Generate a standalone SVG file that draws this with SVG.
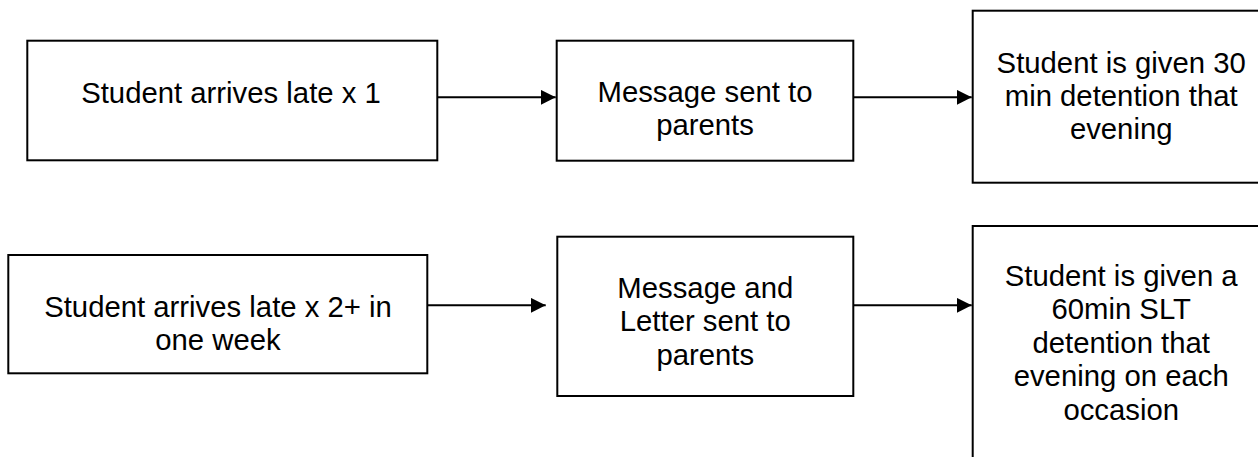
<svg xmlns="http://www.w3.org/2000/svg" width="1258" height="457" viewBox="0 0 1258 457">
  <style>
    .box { fill: #ffffff; stroke: #000000; stroke-width: 2; }
    .lbl { font-family: "Liberation Sans", Arial, sans-serif; font-size: 29.3px; fill: #000000; text-anchor: middle; }
    .conn { stroke: #000000; stroke-width: 2; fill: none; marker-end: url(#arrow); }
  </style>
  <defs>
    <marker id="arrow" markerUnits="userSpaceOnUse" markerWidth="16" markerHeight="16" refX="15" refY="7.5" orient="auto">
      <path d="M0,0 L15,7.5 L0,15 Z" fill="#000000"/>
    </marker>
  </defs>
  <rect width="1258" height="457" fill="#ffffff"/>

  <g id="connectors">
    <line class="conn" x1="437.3" y1="97.3" x2="555.7" y2="97.3"/>
    <line class="conn" x1="853.3" y1="97.3" x2="971.7" y2="97.3"/>
    <line class="conn" x1="427.3" y1="305.3" x2="545.7" y2="305.3"/>
    <line class="conn" x1="853.3" y1="305.3" x2="971.7" y2="305.3"/>
  </g>

  <g id="late1">
    <rect class="box" x="27.3" y="40.7" width="410" height="119.6"/>
    <text class="lbl" x="231" y="102.7">Student arrives late x 1</text>
  </g>

  <g id="message1">
    <rect class="box" x="556.7" y="40.7" width="296.6" height="120"/>
    <text class="lbl" x="705" y="101.7">Message sent to</text>
    <text class="lbl" x="705" y="134.6">parents</text>
  </g>

  <g id="detention30">
    <rect class="box" x="972.7" y="10.7" width="297" height="172"/>
    <text class="lbl" x="1121.2" y="72.7">Student is given 30</text>
    <text class="lbl" x="1121.2" y="106">min detention that</text>
    <text class="lbl" x="1121.2" y="139.3">evening</text>
  </g>

  <g id="late2">
    <rect class="box" x="8.3" y="255" width="419" height="118.3"/>
    <text class="lbl" x="218" y="316.7">Student arrives late x 2+ in</text>
    <text class="lbl" x="218" y="349.5">one week</text>
  </g>

  <g id="message2">
    <rect class="box" x="557.3" y="236.7" width="296" height="159.3"/>
    <text class="lbl" x="705.3" y="298.3">Message and</text>
    <text class="lbl" x="705.3" y="331.4">Letter sent to</text>
    <text class="lbl" x="705.3" y="364.5">parents</text>
  </g>

  <g id="detention60">
    <rect class="box" x="972.7" y="226" width="297" height="260"/>
    <text class="lbl" x="1121.2" y="285.7">Student is given a</text>
    <text class="lbl" x="1121.2" y="319.2">60min SLT</text>
    <text class="lbl" x="1121.2" y="352.7">detention that</text>
    <text class="lbl" x="1121.2" y="386.2">evening on each</text>
    <text class="lbl" x="1121.2" y="419.7">occasion</text>
  </g>
</svg>
